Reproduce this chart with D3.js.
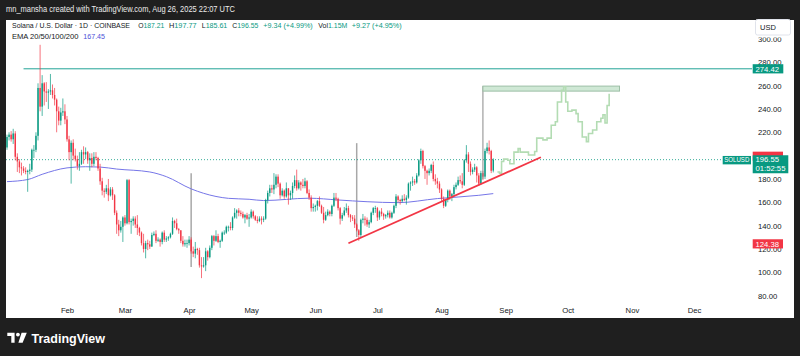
<!DOCTYPE html>
<html><head><meta charset="utf-8">
<script src="https://cdn.jsdelivr.net/npm/d3@7"></script>
<style>
html,body{margin:0;padding:0;background:#1f1f1f;}
svg{display:block;font-family:"Liberation Sans",Arial,sans-serif;}
</style></head><body>
<svg id="c" width="800" height="356"></svg>
<script>
// ---------------- DATA ----------------
const candleStart = "2025-01-03";
// daily [open, high, low, close]
const candles = [
// Jan 3 - Jan 31
[207,218,205,216],[216,220,213,218],[218,221,212,214],[214,223,210,219],[219,221,196,199],
[199,202,186,195],[195,197,185,190],[190,194,183,189],[189,191,185,187],[187,190,184,186],
[186,188,169,187],[187,193,184,188],[188,206,186,205],[205,209,198,205],[205,220,203,217],
[217,262,213,258],[258,295,238,242],[242,269,234,262],[262,263,243,255],[255,263,246,254],
[254,257,240,255],[255,270,252,256],[256,261,249,252],[252,258,243,248],[248,249,220,238],
[238,242,226,230],[230,241,226,237],[237,249,234,238],[238,244,227,231],
// Feb
[231,234,212,214],[214,217,196,203],[203,213,176,211],[211,214,196,200],[200,206,195,197],
[197,200,188,191],[191,203,187,193],[193,205,192,203],[203,208,193,201],[201,207,197,203],
[203,204,193,196],[196,202,187,198],[198,202,190,193],[193,203,191,199],[199,203,196,198],
[198,199,187,189],[189,193,175,178],[178,181,166,170],[170,172,164,169],[169,175,167,172],
[172,180,161,166],[166,173,165,171],[171,173,162,166],[166,167,149,151],[151,153,133,141],
[141,145,131,136],[136,144,134,139],[139,148,126,147],
// Mar
[147,149,140,142],[142,180,141,179],[179,180,141,143],[143,146,133,144],[144,148,140,146],
[146,148,138,141],[141,149,132,138],[138,139,131,134],[134,135,123,125],[125,133,117,120],
[120,127,112,125],[125,128,119,124],[124,127,120,122],[122,134,122,132],[132,135,131,133],
[133,136,125,127],[127,130,126,128],[128,129,122,126],[126,135,124,134],[134,136,126,128],
[128,131,126,129],[129,131,127,130],[130,134,129,133],[133,147,132,144],[144,145,138,142],
[142,146,136,137],[137,138,133,136],[136,136,125,127],[127,131,122,124],[124,128,122,125],
[125,128,121,125],
// Apr
[125,131,123,128],[128,130,116,118],[118,122,113,116],[116,126,112,120],[120,121,115,119],
[119,121,104,106],[106,113,95,105],[105,113,104,106],[106,121,101,118],[118,119,110,113],
[113,123,112,121],[121,132,119,131],[131,132,123,127],[127,136,126,131],[131,133,125,126],
[126,128,121,127],[127,135,126,134],[134,136,132,134],[134,140,133,139],[139,140,135,139],
[139,143,136,138],[138,148,136,147],[147,155,146,151],[151,154,146,153],[153,155,148,151],
[151,153,148,150],[150,152,146,147],[147,150,142,149],[149,151,145,146],[146,150,139,147],
// May
[147,154,146,152],[152,153,146,148],[148,149,144,145],[145,148,142,144],[144,148,143,146],
[146,148,141,145],[145,148,143,146],[146,163,145,162],[162,170,159,168],[168,175,165,172],
[172,175,168,171],[171,185,167,175],[175,184,172,182],[182,184,173,176],[176,177,163,166],
[166,172,165,170],[170,171,163,165],[165,177,164,172],[172,172,158,166],[166,170,162,168],
[168,177,163,174],[174,183,172,179],[179,188,170,172],[172,179,171,177],[177,178,170,175],
[175,180,172,174],[174,181,172,178],[178,179,167,168],[168,171,162,164],[164,166,152,155],
[155,159,152,156],
// Jun
[156,158,152,157],[157,162,153,161],[161,165,156,157],[157,158,150,151],[151,156,142,145],
[145,152,144,149],[149,154,148,152],[152,153,148,150],[150,158,148,157],[157,168,156,164],
[164,168,161,163],[163,164,153,155],[155,156,141,146],[146,151,144,149],[149,156,148,153],
[153,159,151,155],[155,157,147,149],[149,150,143,147],[147,149,144,146],[146,149,138,141],
[141,142,135,136],[136,137,127,132],[132,146,130,145],[145,150,142,146],[146,148,140,145],
[145,147,139,141],[141,145,138,143],[143,152,142,151],[151,156,149,155],[155,157,151,155],
// Jul
[155,156,144,147],[147,153,145,152],[152,155,148,150],[150,151,145,148],[148,150,146,149],
[149,153,147,151],[151,153,146,147],[147,152,146,151],[151,158,150,157],[157,167,155,165],
[165,166,160,162],[162,163,158,161],[161,166,160,163],[163,167,161,162],[162,166,158,164],
[164,177,163,176],[176,178,170,177],[177,182,174,178],[178,180,175,177],[177,185,176,183],
[183,197,182,196],[196,206,193,204],[204,205,189,191],[191,192,180,187],[187,188,175,185],
[185,189,183,187],[187,193,185,192],[192,195,178,180],[180,184,175,178],[178,181,172,176],
[176,178,168,171],
// Aug 1 - Aug 26
[171,172,161,163],[163,165,155,157],[157,163,156,162],[162,171,160,170],[170,171,162,165],
[165,168,161,167],[167,175,165,173],[173,177,171,175],[175,182,174,179],[179,183,176,178],
[178,185,172,175],[175,197,174,196],[196,209,194,201],[201,203,186,193],[193,195,183,186],
[186,190,184,188],[188,193,186,190],[190,191,177,183],[183,185,174,176],[176,187,175,185],
[185,187,179,182],[182,206,180,204],[204,211,202,207],[207,213,201,204],[204,205,185,187],
[187.21,197.77,185.61,196.55]
];

const emaDates  = ["2025-01-03","2025-01-13","2025-01-20","2025-02-01","2025-02-10","2025-02-17","2025-02-25","2025-03-13","2025-03-21","2025-04-02","2025-04-14","2025-04-20","2025-04-30","2025-05-07","2025-05-29","2025-06-12","2025-06-26","2025-07-11","2025-07-30","2025-08-19","2025-08-26"];
const emaValues = [177.7,179.5,184,189.5,190.5,190.2,188.5,186,182,171.5,165,163.4,162.6,161.5,163.5,162,160.5,159.7,163.2,166,167.45];

const ghostDates  = ["2025-08-28","2025-08-29","2025-08-30","2025-08-31","2025-09-02","2025-09-03","2025-09-05","2025-09-07","2025-09-08","2025-09-11","2025-09-12","2025-09-15","2025-09-16","2025-09-19","2025-09-21","2025-09-23","2025-09-25","2025-09-26","2025-09-28","2025-09-29","2025-09-30","2025-10-01","2025-10-03","2025-10-05","2025-10-06","2025-10-08","2025-10-10","2025-10-11","2025-10-13","2025-10-15","2025-10-17","2025-10-18","2025-10-19","2025-10-20","2025-10-21"];
const ghostValues = [186,185,195,197,196,193,203,206,203,203,200.5,203.5,215,213.5,215,226,229,246,256,259,246,238,239,236,229,216,212,219,222,229,232,235,228,243,253];

const monthTicks = ["2025-02-01","2025-03-01","2025-04-01","2025-05-01","2025-06-01","2025-07-01","2025-08-01","2025-09-01","2025-10-01","2025-11-01","2025-12-01"];
const priceTicks = [80,100,120,140,160,180,200,220,240,260,280,300];

const resistanceLevel = 274.42;
const resistanceStart = "2025-01-11";
const lastPrice = 196.55;
const countdown = "01:52:55";
const lowLevel = 124.38;
const trendDates = ["2025-06-17","2025-09-18"];
const trendValues = [124.9,198.6];
const markerDates = ["2025-04-02","2025-06-21"];
const markerLows = [104.5,130.2];
const markerHighs = [185,210.7];
const zoneDates = ["2025-08-21","2025-10-26"];
const zoneValues = [255.3,259.6];
const zoneStemLow = 180;

// ---------------- DRAW ----------------
const parse = d3.timeParse("%Y-%m-%d");
const svg = d3.select("#c");
const x = d3.scaleTime().domain([parse("2025-02-01"), parse("2025-12-01")]).range([67, 694]);
const y = d3.scaleLinear().domain([100, 280]).range([272.3, 62.3]);
const GREEN = "#089981", RED = "#f23645", INK = "#131722";
const plotR = 752;

svg.append("rect").attr("width",800).attr("height",356).attr("fill","#1f1f1f");
svg.append("rect").attr("x",6).attr("y",20).attr("width",788).attr("height",298).attr("fill","#ffffff");

svg.append("text").attr("x",6).attr("y",11.5).attr("font-size",8.3).attr("fill","#ececec")
  .attr("textLength",229).attr("lengthAdjust","spacingAndGlyphs")
  .text("mn_mansha created with TradingView.com, Aug 26, 2025 22:07 UTC");

// legend header
function hdr(parts, x0, w, yb){
  const t = svg.append("text").attr("x",x0).attr("y",yb).attr("font-size",7.4)
    .attr("textLength",w).attr("lengthAdjust","spacingAndGlyphs");
  parts.forEach(p => t.append("tspan").attr("fill",p[1]).text(p[0]));
}
hdr([["Solana / U.S. Dollar · 1D · COINBASE",INK]],12,118,27.5);
hdr([["O",INK],["187.21",GREEN]],138.3,26,27.5);
hdr([["H",INK],["197.77",GREEN]],169,27.7,27.5);
hdr([["L",INK],["185.61",GREEN]],201.7,25.6,27.5);
hdr([["C",INK],["196.55",GREEN]],232.3,26,27.5);
hdr([["+9.34 (+4.99%)",GREEN]],263.3,49.4,27.5);
hdr([["Vol",INK],["1.15M",GREEN]],318.3,29,27.5);
hdr([["+9.27 (+4.95%)",GREEN]],351.7,50,27.5);
hdr([["EMA 20/50/100/200",INK]],12,66.5,38.5);
hdr([["167.45","#4b50d8"]],83.3,21.7,38.5);

// clip
svg.append("clipPath").attr("id","plot").append("rect").attr("x",6).attr("y",20).attr("width",plotR-6).attr("height",298);
const g = svg.append("g").attr("clip-path","url(#plot)");

// marker vertical lines
markerDates.forEach((d,i)=>{
  g.append("line").attr("x1",x(parse(d))).attr("x2",x(parse(d)))
   .attr("y1",y(markerLows[i])).attr("y2",y(markerHighs[i]))
   .attr("stroke","#a8a8a8").attr("stroke-width",1.5);
});

// resistance
g.append("line").attr("x1",x(parse(resistanceStart))).attr("x2",plotR)
  .attr("y1",y(resistanceLevel)).attr("y2",y(resistanceLevel))
  .attr("stroke","#22a396").attr("stroke-width",1);

// last price dotted
g.append("line").attr("x1",6).attr("x2",722).attr("y1",y(lastPrice)).attr("y2",y(lastPrice))
  .attr("stroke",GREEN).attr("stroke-width",1).attr("stroke-dasharray","1 2").attr("opacity",0.8);

// EMA
const ema = emaDates.map((d,i)=>({d:parse(d),v:emaValues[i]}));
g.append("path").datum(ema).attr("fill","none").attr("stroke","#7676e8").attr("stroke-width",1)
  .attr("d",d3.line().x(p=>x(p.d)).y(p=>y(p.v)).curve(d3.curveMonotoneX));

// candles
const start = parse(candleStart);
const cg = g.append("g");
candles.forEach((c,i)=>{
  const d = d3.timeDay.offset(start,i);
  const cx = x(d);
  const col = c[3] >= c[0] ? GREEN : RED;
  cg.append("line").attr("x1",cx).attr("x2",cx).attr("y1",y(c[1])).attr("y2",y(c[2]))
    .attr("stroke",col).attr("stroke-width",0.7);
  const top = y(Math.max(c[0],c[3])), bot = y(Math.min(c[0],c[3]));
  cg.append("rect").attr("x",cx-0.7).attr("width",1.4).attr("y",top).attr("height",Math.max(0.8,bot-top))
    .attr("fill",col);
});

// projection zone
const zx0 = x(parse(zoneDates[0])), zx1 = x(parse(zoneDates[1]));
g.append("line").attr("x1",zx0).attr("x2",zx0).attr("y1",y(zoneValues[1])).attr("y2",y(zoneStemLow))
  .attr("stroke","#8a8a8a").attr("stroke-width",1);
g.append("rect").attr("x",zx0).attr("y",y(zoneValues[1])).attr("width",zx1-zx0)
  .attr("height",y(zoneValues[0])-y(zoneValues[1]))
  .attr("fill","#cfe8d5").attr("stroke","#9dbfa6").attr("stroke-width",1);

// ghost pattern
const ghost = ghostDates.map((d,i)=>({d:parse(d),v:ghostValues[i]}));
g.append("path").datum(ghost).attr("fill","none").attr("stroke","#b3dcb3").attr("stroke-width",1.6)
  .attr("d",d3.line().x(p=>x(p.d)).y(p=>y(p.v)).curve(d3.curveStepAfter));

// trend line
g.append("line").attr("x1",x(parse(trendDates[0]))).attr("y1",y(trendValues[0]))
  .attr("x2",x(parse(trendDates[1]))).attr("y2",y(trendValues[1]))
  .attr("stroke",RED).attr("stroke-width",1.8);

// axes (labels hidden where a price tag fully covers them)
svg.append("clipPath").attr("id","yax").append("rect").attr("x",752).attr("y",37.5).attr("width",48).attr("height",280);
const ya = svg.append("g").attr("clip-path","url(#yax)").append("g").attr("transform","translate(758,0)")
  .call(d3.axisRight(y).tickValues(priceTicks.filter(v => Math.abs(y(v)-y(lastPrice)) > 6))
    .tickFormat(d3.format(".2f")).tickSize(0).tickPadding(0));
ya.select(".domain").remove();
ya.selectAll("text").attr("font-size",7.7).attr("fill",INK).attr("font-family","Liberation Sans, Arial, sans-serif");

const xa = svg.append("g").attr("transform","translate(0,307.2)")
  .call(d3.axisBottom(x).tickValues(monthTicks.map(parse)).tickFormat(d3.timeFormat("%b")).tickSize(0).tickPadding(0));
xa.select(".domain").remove();
xa.selectAll("text").attr("font-size",7.7).attr("fill",INK).attr("font-family","Liberation Sans, Arial, sans-serif");

// USD box
svg.append("rect").attr("x",755.5).attr("y",19.5).attr("width",35).attr("height",15.5).attr("rx",2)
  .attr("fill","#fff").attr("stroke","#e0e3eb");
svg.append("text").attr("x",760).attr("y",30).attr("font-size",7.5).attr("fill",INK).text("USD");

// price labels
function plabel(v, col, txt, w){
  const yy = y(v);
  svg.append("rect").attr("x",752.7).attr("y",yy-4.6).attr("width",w).attr("height",9.2).attr("fill",col);
  svg.append("text").attr("x",755.5).attr("y",yy+2.8).attr("font-size",7.7).attr("fill","#fff").text(txt);
}
plabel(resistanceLevel, GREEN, d3.format(".2f")(resistanceLevel), 30.6);
plabel(lowLevel, RED, d3.format(".2f")(lowLevel), 30.3);
// hidden red tag behind last price
svg.append("rect").attr("x",752.7).attr("y",y(lastPrice)-8).attr("width",30.3).attr("height",9).attr("fill",RED);
const ly = y(lastPrice);
svg.append("rect").attr("x",752.7).attr("y",ly-4.4).attr("width",35.6).attr("height",18).attr("fill",GREEN);
svg.append("text").attr("x",755.5).attr("y",ly+2.8).attr("font-size",7.7).attr("fill","#fff").text(d3.format(".2f")(lastPrice));
svg.append("text").attr("x",755.5).attr("y",ly+11.6).attr("font-size",7.7).attr("fill","#fff").text(countdown);
svg.append("rect").attr("x",722.7).attr("y",ly-3.7).attr("width",28.3).attr("height",8.4).attr("fill",GREEN);
svg.append("text").attr("x",724.3).attr("y",ly+2.8).attr("font-size",7.3).attr("fill","#fff")
  .attr("textLength",25).attr("lengthAdjust","spacingAndGlyphs").text("SOLUSD");

// TradingView logo
const lg = svg.append("g").attr("fill","#ffffff");
lg.append("path").attr("d","M7.3 332.7 H14.6 V342.7 H11.3 V336 H7.3 Z");
lg.append("circle").attr("cx",17.9).attr("cy",334.6).attr("r",1.9);
lg.append("path").attr("d","M21.6 332.7 H26.8 L22.6 342.7 H18.4 Z");
svg.append("text").attr("x",31.5).attr("y",342.7).attr("font-size",13.5).attr("font-weight",600)
  .attr("fill","#ffffff").attr("textLength",73.5).attr("lengthAdjust","spacingAndGlyphs").text("TradingView");
</script>
</body></html>
